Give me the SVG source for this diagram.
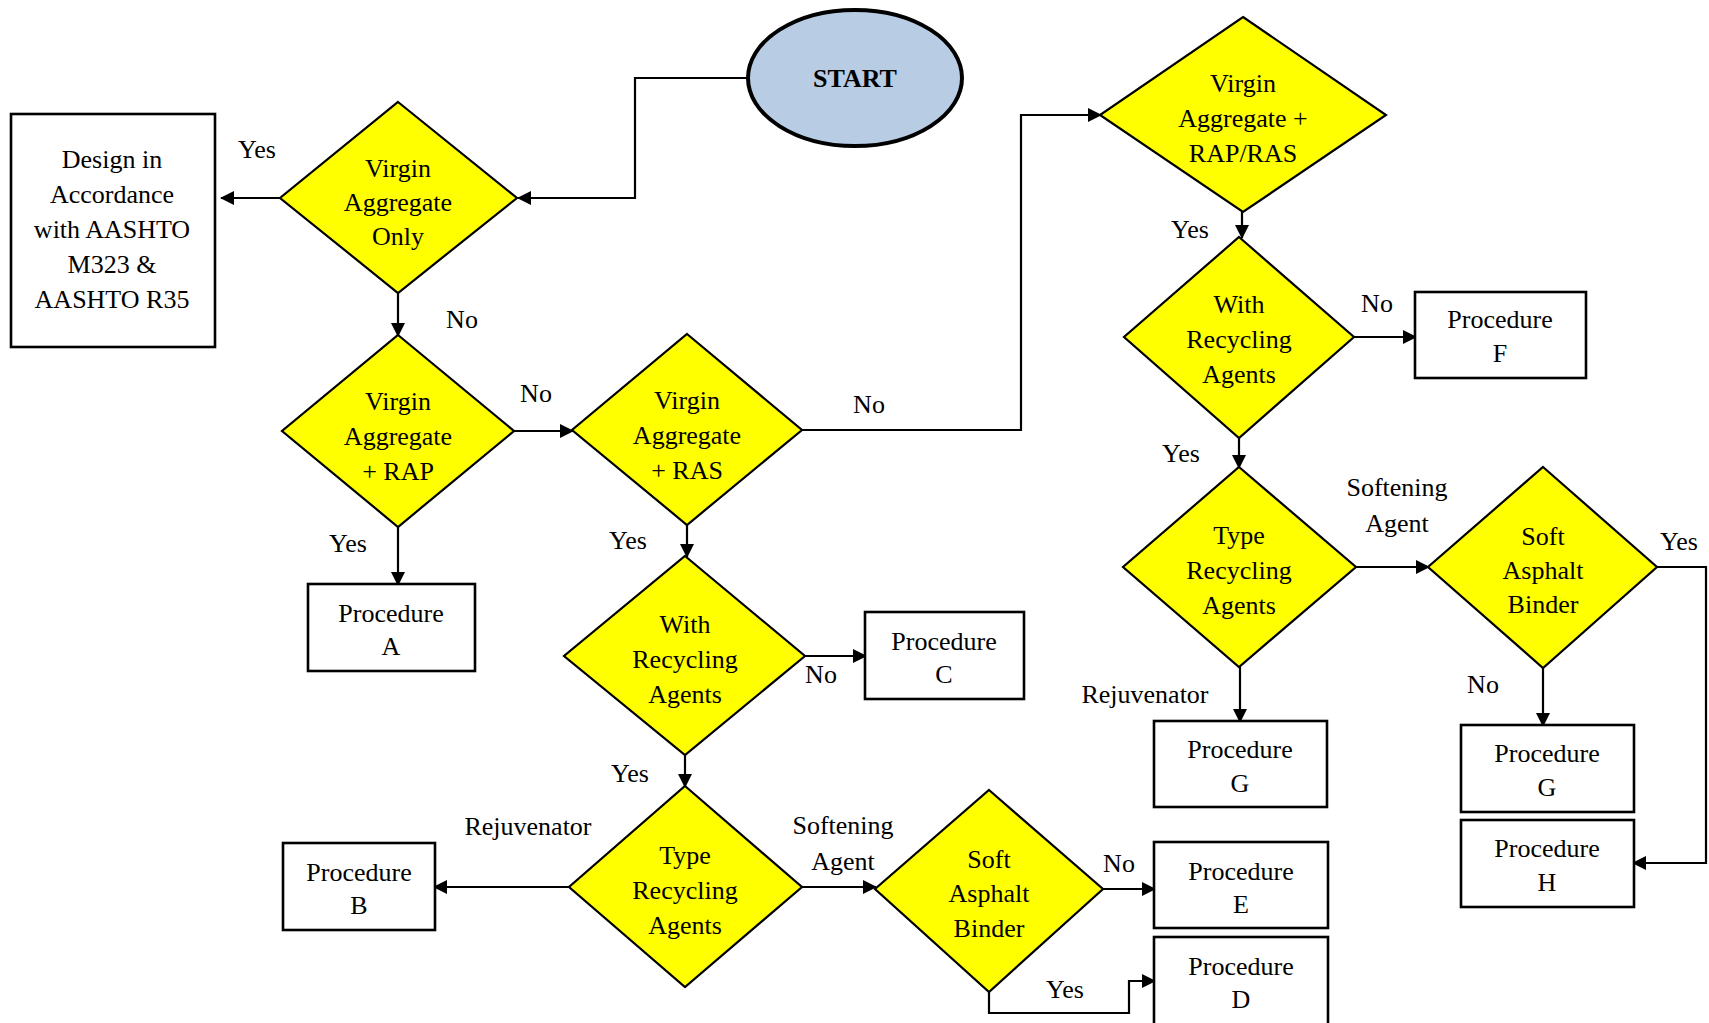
<svg xmlns="http://www.w3.org/2000/svg" width="1709" height="1023" viewBox="0 0 1709 1023">
<defs>
<marker id="arr" markerUnits="userSpaceOnUse" markerWidth="14" markerHeight="14" refX="13" refY="7" orient="auto">
<path d="M0,0 L14,7 L0,14 z" fill="#000"/>
</marker>
<style>
text{font-family:"Liberation Serif","Times New Roman",serif;font-size:26px;fill:#000;text-anchor:middle}
.dia{fill:#ffff00;stroke:#000;stroke-width:2.2}
.box{fill:#fff;stroke:#000;stroke-width:2.6}
.con{fill:none;stroke:#000;stroke-width:2.2}
.ar{marker-end:url(#arr)}
</style>
</defs>
<rect width="1709" height="1023" fill="#fff"/>

<g id="connectors">
<path class="con ar" d="M748,78 H635 V198 H518"/>
<path class="con ar" d="M280,198 H221"/>
<path class="con ar" d="M398,293 V336"/>
<path class="con ar" d="M398,527 V585"/>
<path class="con ar" d="M514,431 H573"/>
<path class="con ar" d="M802,430 H1021 V115 H1101"/>
<path class="con ar" d="M687,525 V557"/>
<path class="con ar" d="M805,656 H866"/>
<path class="con ar" d="M685,755 V787"/>
<path class="con ar" d="M569,887 H434"/>
<path class="con ar" d="M802,887 H876"/>
<path class="con ar" d="M1103,889 H1155"/>
<path class="con ar" d="M989,992 V1013 H1129 V981 H1155"/>
<path class="con ar" d="M1242,212 V238"/>
<path class="con ar" d="M1354,337 H1416"/>
<path class="con ar" d="M1239,438 V468"/>
<path class="con ar" d="M1240,667 V722"/>
<path class="con ar" d="M1356,567 H1429"/>
<path class="con ar" d="M1543,668 V726"/>
<path class="con ar" d="M1657,567 H1706 V863 H1633"/>
</g>

<g id="labels">
<text x="257" y="158">Yes</text>
<text x="462" y="328">No</text>
<text x="536" y="402">No</text>
<text x="348" y="552">Yes</text>
<text x="628" y="549">Yes</text>
<text x="821" y="683">No</text>
<text x="869" y="413">No</text>
<text x="1190" y="238">Yes</text>
<text x="1377" y="312">No</text>
<text x="1181" y="462">Yes</text>
<text x="1397" y="496">Softening</text>
<text x="1397" y="532">Agent</text>
<text x="1679" y="550">Yes</text>
<text x="1483" y="693">No</text>
<text x="1145" y="703">Rejuvenator</text>
<text x="1119" y="872">No</text>
<text x="1065" y="998">Yes</text>
<text x="630" y="782">Yes</text>
<text x="528" y="835">Rejuvenator</text>
<text x="843" y="834">Softening</text>
<text x="843" y="870">Agent</text>
</g>

<g id="start">
<ellipse cx="855" cy="78" rx="107" ry="68" fill="#b8cce4" stroke="#000" stroke-width="4"/>
<text x="855" y="87" font-weight="bold">START</text>
</g>

<g id="design">
<rect class="box" x="11" y="114" width="204" height="233"/>
<text x="112" y="168">Design in</text>
<text x="112" y="203">Accordance</text>
<text x="112" y="238">with AASHTO</text>
<text x="112" y="273">M323 &amp;</text>
<text x="112" y="308">AASHTO R35</text>
</g>

<g id="d1">
<polygon class="dia" points="398,102 517,198 398,293 280,198"/>
<text x="398" y="177">Virgin</text>
<text x="398" y="211">Aggregate</text>
<text x="398" y="245">Only</text>
</g>

<g id="d2">
<polygon class="dia" points="398,335 514,431 398,527 282,431"/>
<text x="398" y="410">Virgin</text>
<text x="398" y="445">Aggregate</text>
<text x="398" y="480">+ RAP</text>
</g>

<g id="d3">
<polygon class="dia" points="687,334 802,430 687,525 572,430"/>
<text x="687" y="409">Virgin</text>
<text x="687" y="444">Aggregate</text>
<text x="687" y="479">+ RAS</text>
</g>

<g id="d4">
<polygon class="dia" points="685,556 805,656 685,755 564,656"/>
<text x="685" y="633">With</text>
<text x="685" y="668">Recycling</text>
<text x="685" y="703">Agents</text>
</g>

<g id="d10">
<polygon class="dia" points="685,786 802,887 685,987 569,887"/>
<text x="685" y="864">Type</text>
<text x="685" y="899">Recycling</text>
<text x="685" y="934">Agents</text>
</g>

<g id="d9">
<polygon class="dia" points="989,790 1103,889 989,992 875,889"/>
<text x="989" y="868">Soft</text>
<text x="989" y="902">Asphalt</text>
<text x="989" y="937">Binder</text>
</g>

<g id="d5">
<polygon class="dia" points="1243,17 1386,115 1243,212 1100,115"/>
<text x="1243" y="92">Virgin</text>
<text x="1243" y="127">Aggregate +</text>
<text x="1243" y="162">RAP/RAS</text>
</g>

<g id="d6">
<polygon class="dia" points="1239,237 1354,337 1239,438 1124,337"/>
<text x="1239" y="313">With</text>
<text x="1239" y="348">Recycling</text>
<text x="1239" y="383">Agents</text>
</g>

<g id="d7">
<polygon class="dia" points="1239,467 1356,567 1239,667 1123,567"/>
<text x="1239" y="544">Type</text>
<text x="1239" y="579">Recycling</text>
<text x="1239" y="614">Agents</text>
</g>

<g id="d8">
<polygon class="dia" points="1543,467 1657,567 1543,668 1428,567"/>
<text x="1543" y="545">Soft</text>
<text x="1543" y="579">Asphalt</text>
<text x="1543" y="613">Binder</text>
</g>

<g id="procA">
<rect class="box" x="308" y="584" width="167" height="87"/>
<text x="391" y="622">Procedure</text>
<text x="391" y="655">A</text>
</g>

<g id="procB">
<rect class="box" x="283" y="843" width="152" height="87"/>
<text x="359" y="881">Procedure</text>
<text x="359" y="914">B</text>
</g>

<g id="procC">
<rect class="box" x="865" y="612" width="159" height="87"/>
<text x="944" y="650">Procedure</text>
<text x="944" y="683">C</text>
</g>

<g id="procE">
<rect class="box" x="1154" y="842" width="174" height="86"/>
<text x="1241" y="880">Procedure</text>
<text x="1241" y="913">E</text>
</g>

<g id="procD">
<rect class="box" x="1154" y="937" width="174" height="90"/>
<text x="1241" y="975">Procedure</text>
<text x="1241" y="1008">D</text>
</g>

<g id="procF">
<rect class="box" x="1415" y="292" width="171" height="86"/>
<text x="1500" y="328">Procedure</text>
<text x="1500" y="362">F</text>
</g>

<g id="procG1">
<rect class="box" x="1154" y="721" width="173" height="86"/>
<text x="1240" y="758">Procedure</text>
<text x="1240" y="792">G</text>
</g>

<g id="procG2">
<rect class="box" x="1461" y="725" width="173" height="87"/>
<text x="1547" y="762">Procedure</text>
<text x="1547" y="796">G</text>
</g>

<g id="procH">
<rect class="box" x="1461" y="820" width="173" height="87"/>
<text x="1547" y="857">Procedure</text>
<text x="1547" y="891">H</text>
</g>
</svg>
